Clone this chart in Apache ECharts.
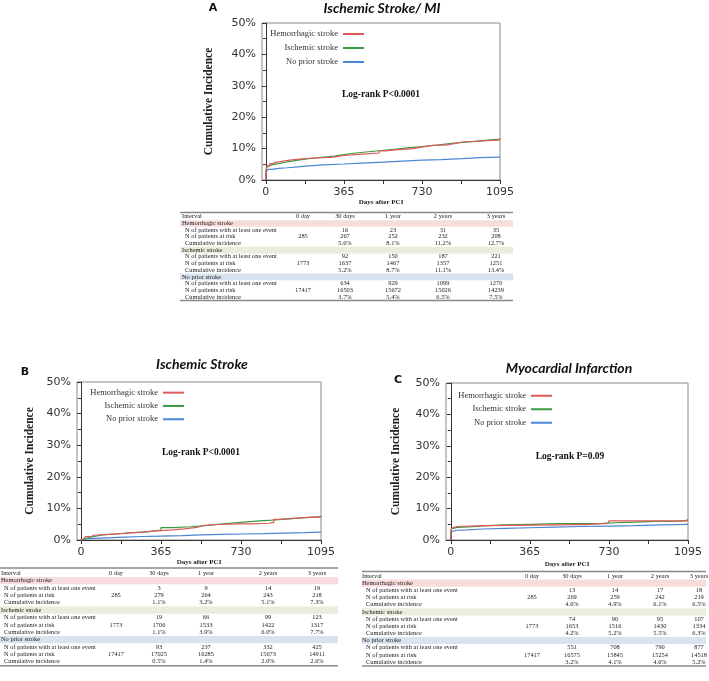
<!DOCTYPE html>
<html><head><meta charset="utf-8">
<script src="https://cdn.jsdelivr.net/npm/echarts@6/dist/echarts.min.js"></script>
<style>html,body{margin:0;padding:0;background:#fff}#c{width:709px;height:681px}</style>
</head><body><div id="c"></div>
<script>
// ---------- data ----------
const groupNames = ['Hemorrhagic stroke', 'Ischemic stroke', 'No prior stroke'];
const panelTitles = ['Ischemic Stroke/ MI', 'Ischemic Stroke', 'Myocardial Infarction'];
const panelLetters = ['A', 'B', 'C'];
const logRankTexts = ['Log-rank P<0.0001', 'Log-rank P<0.0001', 'Log-rank P=0.09'];
const xTickValues = [0, 365, 730, 1095];
const xMinorTickValues = [0, 182.5, 365, 547.5, 730, 912.5, 1095];
const tableHeader = ['Interval', '0 day', '30 days', '1 year', '2 years', '3 years'];
const rowLabels = ['N of patients with at least one event', 'N of patients at risk', 'Cumulative incidence'];

// Panel A curves [day, %]
const aHem = [[0,0],[1,2.5],[3,3.8],[8,4.5],[18,5.2],[30,5.6],[45,6.0],[80,6.4],[120,6.7],[170,7.0],[230,7.2],[300,7.5],[340,7.8],[365,8.1],[420,8.3],[470,8.6],[530,9.3],[560,9.7],[620,10.0],[690,10.4],[720,11.0],[780,11.2],[850,11.6],[880,12.1],[920,12.4],[1000,12.6],[1060,12.7],[1095,12.7]];
const aIsch = [[0,0],[1,3.0],[3,4.0],[7,4.5],[15,4.9],[30,5.2],[60,5.8],[100,6.3],[150,6.8],[200,7.2],[260,7.6],[320,8.1],[365,8.6],[420,9.0],[480,9.4],[540,9.8],[600,10.2],[660,10.6],[730,11.1],[800,11.6],[860,12.0],[920,12.3],[980,12.7],[1040,13.0],[1095,13.3]];
const aNone = [[0,0],[1,2.6],[3,3.1],[10,3.4],[30,3.7],[60,3.9],[100,4.2],[150,4.5],[200,4.8],[270,5.1],[365,5.4],[450,5.7],[550,6.0],[640,6.3],[730,6.5],[820,6.8],[920,7.1],[1000,7.3],[1095,7.5]];
// Panel B curves
const bHem = [[0,0],[5,0.4],[12,0.7],[20,1.1],[45,1.5],[60,1.8],[120,2.1],[200,2.5],[280,2.8],[330,3.2],[420,3.5],[470,4.0],[530,4.6],[560,4.9],[620,5.1],[720,5.1],[780,5.3],[860,5.6],[880,6.5],[900,7.0],[1000,7.3],[1095,7.3]];
const bIsch = [[0,0],[5,0.3],[15,0.7],[30,1.1],[60,1.6],[100,1.9],[160,2.3],[220,2.6],[300,3.1],[365,3.9],[420,4.2],[500,4.6],[580,5.1],[650,5.6],[730,6.0],[800,6.3],[870,6.7],[950,7.1],[1020,7.4],[1095,7.7]];
const bNone = [[0,0],[5,0.2],[15,0.4],[30,0.5],[60,0.7],[120,0.9],[200,1.1],[280,1.25],[365,1.4],[460,1.6],[550,1.75],[640,1.9],[730,2.0],[830,2.2],[930,2.35],[1020,2.5],[1095,2.6]];
// Panel C curves
const cHem = [[0,0],[1,3.2],[5,3.9],[12,4.3],[30,4.6],[150,4.6],[160,4.9],[600,4.9],[620,5.3],[725,5.3],[730,6.1],[1070,6.1],[1080,6.5],[1095,6.5]];
const cIsch = [[0,0],[1,2.8],[4,3.6],[12,4.0],[30,4.2],[80,4.5],[150,4.8],[250,5.0],[365,5.2],[500,5.3],[700,5.4],[730,5.5],[760,5.7],[850,5.9],[950,6.0],[1050,6.2],[1095,6.3]];
const cNone = [[0,0],[1,2.4],[4,2.9],[12,3.1],[30,3.2],[80,3.5],[150,3.7],[250,3.9],[365,4.1],[480,4.3],[600,4.45],[730,4.6],[850,4.8],[970,5.0],[1095,5.2]];

// Tables: per group [events(30d,1y,2y,3y)], atRisk0, [atRisk...], [cum%...]
const aEvents = [[16,23,31,35],[92,150,187,221],[634,929,1099,1270]];
const aRisk0 = [285, 1773, 17417];
const aRisk = [[267,252,232,208],[1637,1467,1357,1251],[16503,15672,15026,14239]];
const aCum = [[5.6,8.1,11.2,12.7],[5.2,8.7,11.1,13.4],[3.7,5.4,6.5,7.5]];

const bEvents = [[3,9,14,19],[19,66,99,123],[93,237,332,425]];
const bRisk0 = [285, 1773, 17417];
const bRisk = [[279,264,243,218],[1706,1533,1422,1317],[17025,16285,15673,14911]];
const bCum = [[1.1,3.2,5.1,7.3],[1.1,3.9,6.0,7.7],[0.5,1.4,2.0,2.6]];

const cEvents = [[13,14,17,18],[74,90,95,107],[551,708,790,877]];
const cRisk0 = [285, 1773, 17417];
const cRisk = [[269,259,242,219],[1653,1516,1430,1334],[16575,15845,15254,14518]];
const cCum = [[4.6,4.9,6.1,6.5],[4.2,5.2,5.5,6.3],[3.2,4.1,4.6,5.2]];

// ---------- styles / layout ----------
const colors = ['#e05a5c', '#3a9a3e', '#4a86d6'];
const bandColors = ['#f7dcdd', '#e8eedb', '#d9e2ef'];
const panels = [
  {grid:{left:262, top:23, width:238, height:157}, xmin:-18, nameGap:47, xNameGap:19,
   curves:[aHem,aIsch,aNone], legend:{right:345, top:27, lh:14},
   title:[382,8], letter:[213,8], logrank:[381,95]},
  {grid:{left:77, top:382, width:244, height:158}, xmin:-18, nameGap:41, xNameGap:17,
   curves:[bHem,bIsch,bNone], legend:{right:525, top:386, lh:13.3},
   title:[202,364], letter:[25,372], logrank:[201,453]},
  {grid:{left:446, top:383, width:242, height:157}, xmin:-22, nameGap:44, xNameGap:21,
   curves:[cHem,cIsch,cNone], legend:{right:157, top:389, lh:13.5},
   title:[569,368], letter:[398,380], logrank:[570,457]}
];
const tables = [
  {x0:180, x1:513, top:212.5, head:216.8, rowH:6.67, cols:[303,345,393,443,496], lx:182, ix:185,
   ev:aEvents, r0:aRisk0, r:aRisk, cum:aCum},
  {x0:0, x1:338, top:568, head:573.3, rowH:7.37, cols:[116,159,206,268,317], lx:1, ix:4,
   ev:bEvents, r0:bRisk0, r:bRisk, cum:bCum},
  {x0:362, x1:706, top:571.5, head:576, rowH:7.17, cols:[532,572,615,660,699], lx:362, ix:366,
   ev:cEvents, r0:cRisk0, r:cRisk, cum:cCum}
];

const grids = [], xAxes = [], yAxes = [], series = [], legends = [], graphics = [];

function txt(x, y, text, font, align, fill) {
  return {type:'text', x:x, y:y, silent:true,
    style:{text:text, font:font, fill:fill || '#222', align:align || 'left', textAlign:align || 'left',
           verticalAlign:'middle', textVerticalAlign:'middle'}};
}

panels.forEach((p, i) => {
  grids.push(Object.assign({show:true, borderColor:'#8a8a8a', borderWidth:1, backgroundColor:'transparent',
    containLabel:false, outerBoundsMode:'none'}, p.grid));
  xAxes.push({type:'value', gridIndex:i, min:p.xmin, max:1095,
    name:'Days after PCI', nameLocation:'middle', nameGap:p.xNameGap,
    nameTextStyle:{fontFamily:'Liberation Serif', fontWeight:'bold', fontSize:7, color:'#222'},
    axisLine:{show:true, onZero:false, lineStyle:{color:'#333', width:1}},
    axisTick:{show:true, length:4, customValues:xMinorTickValues, lineStyle:{color:'#333'}},
    axisLabel:{show:true, customValues:xTickValues, formatter:(v) => String(v), margin:7,
      fontFamily:'DejaVu Sans', fontSize:11, color:'#333'},
    splitLine:{show:false}});
  yAxes.push({type:'value', gridIndex:i, min:0, max:50, interval:10,
    name:'Cumulative Incidence', nameLocation:'middle', nameGap:p.nameGap,
    nameTextStyle:{fontFamily:'Liberation Serif', fontWeight:'bold', fontSize:11.5, color:'#222'},
    axisLine:{show:true, lineStyle:{color:'#333', width:1}},
    axisTick:{show:true, length:4, lineStyle:{color:'#333'}},
    minorTick:{show:true, splitNumber:2, length:3, lineStyle:{color:'#333'}},
    axisLabel:{formatter:'{value}%', margin:6, fontFamily:'DejaVu Sans', fontSize:11, color:'#333'},
    splitLine:{show:false}, minorSplitLine:{show:false}});
  p.curves.forEach((d, k) => {
    series.push({type:'line', name:groupNames[k], xAxisIndex:i, yAxisIndex:i, data:d, step:'end',
      showSymbol:false, symbol:'none', color:colors[k], lineStyle:{color:colors[k], width:1.2}, z:3 - k + 2,
      animation:false});
  });
  legends.push({data:groupNames, orient:'vertical', align:'right', right:p.legend.right, top:p.legend.top,
    padding:0, itemGap:0, itemWidth:21, itemHeight:2, icon:'rect', selectedMode:false,
    textStyle:{fontFamily:'Liberation Serif', fontSize:8.5, color:'#333', lineHeight:p.legend.lh}});
  graphics.push(txt(p.title[0], p.title[1], panelTitles[i], 'italic bold 14px Lato', 'center', '#111'));
  graphics.push(txt(p.letter[0], p.letter[1], panelLetters[i], 'bold 11px "DejaVu Sans"', 'center', '#111'));
  graphics.push(txt(p.logrank[0], p.logrank[1], logRankTexts[i], 'bold 9.5px "Liberation Serif"', 'center', '#111'));
});

const tFont = '6.4px "Liberation Serif"';
tables.forEach((t) => {
  const w = t.x1 - t.x0;
  for (let g = 0; g < 3; g++) {
    const yc = t.head + (1 + 4 * g) * t.rowH;
    graphics.push({type:'rect', silent:true, shape:{x:t.x0, y:yc - t.rowH / 2, width:w, height:t.rowH},
      style:{fill:bandColors[g]}});
  }
  graphics.push({type:'line', silent:true, shape:{x1:t.x0, y1:t.top, x2:t.x1, y2:t.top}, style:{stroke:'#888', lineWidth:1.5}});
  const bottom = t.head + 12 * t.rowH + t.rowH * 0.55;
  graphics.push({type:'line', silent:true, shape:{x1:t.x0, y1:bottom, x2:t.x1, y2:bottom}, style:{stroke:'#888', lineWidth:1.5}});
  graphics.push(txt(t.lx, t.head, tableHeader[0], tFont, 'left'));
  for (let c = 0; c < 5; c++) graphics.push(txt(t.cols[c], t.head, tableHeader[c + 1], tFont, 'center'));
  for (let g = 0; g < 3; g++) {
    const yb = t.head + (1 + 4 * g) * t.rowH;
    graphics.push(txt(t.lx, yb, groupNames[g], tFont, 'left'));
    const y1 = yb + t.rowH, y2 = yb + 2 * t.rowH, y3 = yb + 3 * t.rowH;
    graphics.push(txt(t.ix, y1, rowLabels[0], tFont, 'left'));
    graphics.push(txt(t.ix, y2, rowLabels[1], tFont, 'left'));
    graphics.push(txt(t.ix, y3, rowLabels[2], tFont, 'left'));
    graphics.push(txt(t.cols[0], y2, String(t.r0[g]), tFont, 'center'));
    for (let c = 0; c < 4; c++) {
      graphics.push(txt(t.cols[c + 1], y1, String(t.ev[g][c]), tFont, 'center'));
      graphics.push(txt(t.cols[c + 1], y2, String(t.r[g][c]), tFont, 'center'));
      graphics.push(txt(t.cols[c + 1], y3, t.cum[g][c].toFixed(1) + '%', tFont, 'center'));
    }
  }
});

const chart = echarts.init(document.getElementById('c'), null, {renderer:'canvas'});
chart.setOption({
  animation:false,
  backgroundColor:'#fff',
  grid:grids, xAxis:xAxes, yAxis:yAxes, series:series, legend:legends,
  graphic:{elements:graphics}
});
</script></body></html>
